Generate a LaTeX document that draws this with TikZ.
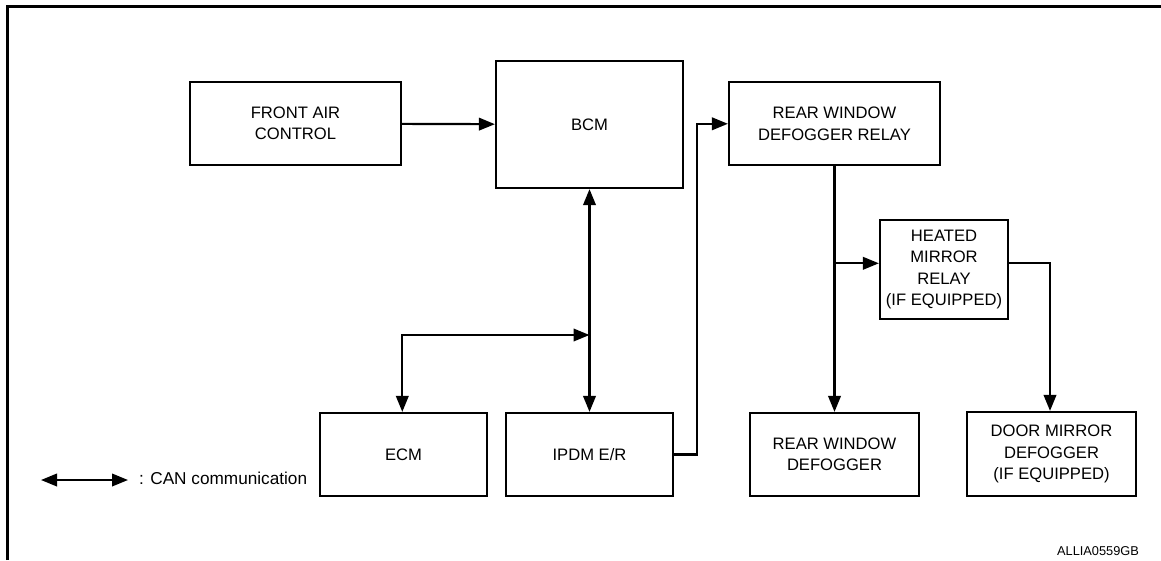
\documentclass[tikz,border=0pt]{standalone}
\usepackage{fontspec}
\setmainfont{Liberation Sans}
\usetikzlibrary{arrows.meta,calc,positioning}

\begin{document}
\begin{tikzpicture}[x=1pt,y=-1pt,
		unit/.style={draw,line width=2.2pt,inner sep=0pt,align=center,
			font=\fontsize{16.6}{21.5}\selectfont},
		sig/.style={line width=2.2pt,-{Triangle[length=16pt,width=12.5pt]}},
		can/.style={line width=2.2pt,{Triangle[length=16pt,width=12.5pt]}-{Triangle[length=16pt,width=12.5pt]}}]
				\useasboundingbox (0,0) rectangle (1161,560);
				\draw[line width=3pt] (7,560) to (7,6) to (1161,6);
				\node[unit,minimum width=211pt,minimum height=83pt] (fac) at (295.5,123.5) {FRONT AIR\\CONTROL};
				\node[unit,minimum width=187pt,minimum height=127pt] (bcm) at (589.5,124.5) {BCM};
				\node[unit,minimum width=211pt,minimum height=83pt] (rwdr) at (834.5,123.8) {REAR WINDOW\\DEFOGGER RELAY};
				\node[unit,minimum width=167pt,minimum height=83pt] (ecm) at (403.5,454.5) {ECM};
				\node[unit,minimum width=167pt,minimum height=83pt] (ipdm) at (589.5,454.5) {IPDM E/R};
				\node[unit,minimum width=169pt,minimum height=83pt] (rwd) at (834.5,454.5) {REAR WINDOW\\DEFOGGER};
				\node[unit,minimum width=128pt,minimum height=99pt] (hmr) at (944,269.5) {HEATED\\MIRROR\\RELAY\\(IF EQUIPPED)};
				\node[unit,minimum width=169pt,minimum height=84pt] (dmd) at (1051.5,454) {DOOR MIRROR\\DEFOGGER\\(IF EQUIPPED)};
				\coordinate (jn) at (589.5,335);
				\coordinate (up) at (696.7,123.8);
				\coordinate (br) at (834.5,263.3);
				\draw[sig] (fac) to (bcm);
				\draw[can] (bcm) to (ipdm);
				\draw[can] (ecm.north -| 402.3,0) |- (jn);
				\draw[sig] (ipdm.east) -| (up) to (rwdr.west);
				\draw[sig] (rwdr) to (rwd);
				\draw[sig] (br) to (br -| hmr.west);
				\draw[sig] (hmr.east |- br) -| (dmd.north -| 1050,0);
				\coordinate (legL) at (41,480);
				\coordinate (legR) at (128,480);
				\draw[can] (legL) to (legR);
				\node[anchor=west,inner sep=0pt,font=\fontsize{17.2}{20}\selectfont] (legend) at (139,478) {: CAN communication};
				\node[inner sep=0pt,font=\fontsize{12.8}{15}\selectfont] (code) at (1098,550.7) {ALLIA0559GB};
	\end{tikzpicture}
\end{document}
